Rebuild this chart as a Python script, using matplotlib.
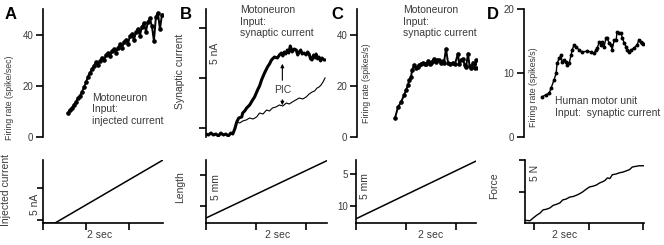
import numpy as np
import matplotlib
matplotlib.use("Agg")
import matplotlib.pyplot as plt

plt.rcParams['font.family'] = ['Liberation Sans', 'DejaVu Sans']
plt.rcParams['font.size'] = 7

# A: motoneuron, injected current ramp
a_t_start, a_t_end = 1.16, 5.53
a_rate = [9.5, 10.4, 11.3, 12.6, 13.8, 15.1, 16.0, 17.6, 19.4, 21.3, 23.6, 25.1,
          26.4, 27.9, 29.2, 28.0, 29.8, 31.0, 29.9, 32.0, 32.9, 31.5, 33.6, 34.2,
          33.0, 34.8, 36.2, 34.6, 37.1, 38.0, 36.3, 39.4, 40.2, 37.8, 41.0, 42.3,
          39.6, 43.1, 44.5, 41.2, 45.0, 46.3, 43.2, 37.5, 47.0, 48.6, 42.0, 47.8]
a_cur_t = [0, 0.56, 5.58]
a_cur = [-0.47, -0.47, 9.4]

# B: motoneuron, synaptic current (thick = total, thin = without PIC)
b_thick_t = [0.0, 0.1, 0.2, 0.3, 0.4, 0.5, 0.6, 0.7, 0.8, 0.9, 1.0, 1.08, 1.16,
             1.24, 1.32, 1.44, 1.48, 1.56, 1.64, 1.76, 1.88, 1.96, 2.08, 2.16,
             2.24, 2.36, 2.48, 2.56, 2.64, 2.76, 2.88, 2.96, 3.04, 3.10, 3.16,
             3.22, 3.28, 3.34, 3.40, 3.48, 3.56, 3.64, 3.70, 3.76, 3.82, 3.88,
             3.96, 4.04, 4.10, 4.16, 4.22, 4.28, 4.34, 4.40, 4.44, 4.50, 4.56,
             4.62, 4.68, 4.76, 4.84]
b_thick = [-0.6, -0.7, -0.5, -0.7, -0.6, -0.8, -0.5, -0.7, -0.6, -0.8, -0.5,
           -0.6, -0.1, 0.6, 1.0, 1.1, 1.5, 1.7, 2.0, 2.3, 2.8, 3.1, 3.8, 4.2,
           4.8, 5.5, 6.1, 6.4, 6.8, 7.1, 7.0, 7.3, 7.5, 7.2, 7.6, 7.4, 7.8, 7.5,
           8.2, 7.6, 7.9, 7.8, 7.3, 7.6, 7.8, 7.4, 7.5, 7.3, 7.6, 7.4, 6.9, 6.8,
           7.3, 7.0, 7.4, 6.9, 7.1, 6.7, 7.0, 6.8, 6.8]
b_thin_t = [1.16, 1.24, 1.36, 1.48, 1.62, 1.76, 1.90, 2.04, 2.16, 2.30, 2.44,
            2.56, 2.68, 2.82, 2.96, 3.10, 3.24, 3.36, 3.48, 3.62, 3.76, 3.90,
            4.04, 4.16, 4.28, 4.38, 4.48, 4.56, 4.64, 4.72, 4.80]
b_thin = [0.0, 0.6, 0.5, 0.7, 0.8, 1.0, 0.9, 1.1, 1.5, 1.4, 1.8, 1.7, 2.0, 2.1,
          2.3, 2.2, 2.5, 2.4, 2.6, 2.8, 3.0, 2.9, 3.1, 3.4, 3.6, 3.7, 4.0, 4.1,
          4.3, 4.6, 5.0]
b_len_t = [0, 4.84]
b_len = [11.9, 2.7]

# C: motoneuron, synaptic current (stretch)
c_t = [1.52, 1.64, 1.76, 1.88, 1.96, 2.04, 2.08, 2.16, 2.20, 2.28, 2.36, 2.42,
       2.48, 2.56, 2.64, 2.70, 2.76, 2.84, 2.90, 2.96, 3.02, 3.08, 3.14, 3.20,
       3.28, 3.36, 3.42, 3.48, 3.56, 3.64, 3.72, 3.84, 3.92, 4.04, 4.08, 4.16,
       4.24, 4.30, 4.36, 4.44, 4.50, 4.56, 4.64, 4.70, 4.76, 4.84]
c_rate = [7.4, 11.7, 13.6, 16.3, 18.3, 20.2, 22.1, 23.3, 26.0, 28.0, 26.8, 27.5,
          28.0, 28.6, 29.1, 28.4, 28.7, 29.5, 28.6, 29.1, 29.8, 30.6, 29.4, 30.2,
          29.9, 28.8, 29.6, 29.1, 34.5, 29.1, 28.4, 29.1, 28.6, 32.6, 28.7, 30.0,
          30.6, 28.2, 27.2, 32.6, 27.8, 26.8, 29.1, 27.0, 29.9, 26.8]
c_len_t = [0, 4.8]
c_len = [12.0, 2.97]

# D: human motor unit, force
d_t = [0.33, 0.47, 0.58, 0.65, 0.76, 0.84, 0.87, 0.95, 1.02, 1.05, 1.13, 1.20,
       1.24, 1.31, 1.38, 1.42, 1.49, 1.56, 1.67, 1.78, 1.96, 2.11, 2.22, 2.29,
       2.33, 2.40, 2.47, 2.51, 2.58, 2.65, 2.69, 2.76, 2.84, 2.87, 2.95, 3.02,
       3.05, 3.13, 3.20, 3.24, 3.31, 3.38, 3.42, 3.49, 3.56, 3.67, 3.78, 3.85,
       3.93, 3.96, 4.00]
d_rate = [6.3, 6.6, 6.8, 7.6, 8.9, 10.0, 11.5, 12.3, 12.8, 11.7, 12.0, 11.7,
          11.2, 11.5, 12.8, 13.6, 14.4, 14.1, 13.6, 13.3, 13.4, 13.3, 13.1, 13.6,
          13.9, 14.8, 14.4, 14.8, 14.1, 15.5, 15.5, 14.7, 14.4, 13.6, 15.2, 15.2,
          16.4, 16.2, 16.2, 15.5, 14.7, 14.1, 13.6, 13.3, 13.6, 13.9, 14.4, 15.2,
          14.8, 14.7, 14.5]
d_force_t = [-0.40, -0.15, -0.04, 0.11, 0.22, 0.33, 0.45, 0.58, 0.70, 0.84,
             0.95, 1.05, 1.18, 1.31, 1.44, 1.56, 1.66, 1.78, 1.90, 2.04, 2.16,
             2.29, 2.40, 2.51, 2.60, 2.69, 2.78, 2.87, 3.00, 3.13, 3.25, 3.38,
             3.50, 3.60, 3.72, 3.85, 4.03]
d_force = [0.6, 0.5, 0.9, 1.4, 1.7, 2.2, 2.3, 2.5, 2.9, 3.1, 3.3, 3.75, 3.9,
           4.2, 4.3, 4.5, 4.7, 5.0, 5.4, 5.8, 5.9, 6.1, 6.4, 6.6, 6.8, 7.2, 7.1,
           7.7, 7.8, 8.0, 8.1, 8.3, 8.5, 8.9, 9.0, 9.1, 9.1]

INK = '#3a3a3a'
FS = 7.5      # annotation / label size
FS_RATE = 6.3  # the firing rate labels are set smaller
fig = plt.figure(figsize=(6.64, 2.45), dpi=100)
W, H = 664.0, 245.0


def add_ax(left, top, bottom, width=120):
    return fig.add_axes([left / W, 1 - bottom / H, width / W, (bottom - top) / H])


def style_top(ax):
    for s in ['top', 'right', 'bottom']:
        ax.spines[s].set_visible(False)
    ax.spines['left'].set_linewidth(1.2)
    ax.set_xticks([])
    ax.tick_params(axis='y', length=5, width=1.2, pad=2, colors='k',
                   labelcolor=INK, labelsize=7)
    ax.patch.set_alpha(0)


def style_bottom(ax, xlim):
    for s in ['top', 'right']:
        ax.spines[s].set_visible(False)
    ax.spines['left'].set_linewidth(1.2)
    ax.spines['bottom'].set_linewidth(1.2)
    ax.set_xlim(*xlim)
    ax.tick_params(axis='x', length=5, width=1.2, labelbottom=False)
    ax.tick_params(axis='y', length=4, width=1.2, pad=2, colors='k',
                   labelcolor=INK, labelsize=7)
    ax.patch.set_alpha(0)


def sec_label(ax, x):
    ax.text(x, -0.19, '2 sec', transform=ax.get_xaxis_transform(),
            ha='center', va='center', fontsize=FS, color=INK)


# ---------- A ----------
ax = add_ax(43, 9, 137)
style_top(ax)
ax.plot(np.linspace(a_t_start, a_t_end, len(a_rate)), a_rate, color='k',
        lw=1.4, marker='o', ms=2.3)
ax.set_xlim(0, 5.58)
ax.set_ylim(0, 50)
ax.set_yticks([0, 20, 40])
ax.set_ylabel('Firing rate (spike/sec)', fontsize=FS_RATE, color=INK)
ax.yaxis.set_label_coords(-0.245, 0.31)
ax.text(0.408, 0.345, 'Motoneuron\nInput:\ninjected current', transform=ax.transAxes,
        ha='left', va='top', fontsize=FS, color=INK)

ax = add_ax(43, 160, 223)
style_bottom(ax, (0, 5.58))
ax.plot(a_cur_t, a_cur, color='k', lw=1.1)
ax.set_ylim(-0.47, 9.4)
ax.set_yticks([0, 5])
ax.set_yticklabels([])
ax.set_xticks([0, 2, 4])
ax.set_ylabel('Injected current', fontsize=FS, color=INK)
ax.yaxis.set_label_coords(-0.27, 0.52)
ax.text(-0.067, 2.5, '5 nA', transform=ax.get_yaxis_transform(), rotation=90,
        ha='center', va='center', fontsize=FS, color=INK)
sec_label(ax, 2.65)

# ---------- B ----------
ax = add_ax(206, 9, 137)
style_top(ax)
ax.plot(b_thick_t, b_thick, color='k', lw=2.2)
ax.plot(b_thin_t, b_thin, color='k', lw=0.8)
ax.set_xlim(0, 4.84)
ax.set_ylim(-0.9, 11.9)
ax.set_yticks([0, 5, 10])
ax.set_yticklabels([])
ax.set_ylabel('Synaptic current', fontsize=FS, color=INK)
ax.yaxis.set_label_coords(-0.175, 0.51)
ax.text(0.075, 7.5, '5 nA', transform=ax.get_yaxis_transform(), rotation=90,
        ha='center', va='center', fontsize=FS, color=INK)
ax.text(0.283, 1.03, 'Motoneuron\nInput:\nsynaptic current', transform=ax.transAxes,
        ha='left', va='top', fontsize=FS, color=INK)
ax.text(3.1, 3.8, 'PIC', ha='center', va='center', fontsize=FS, color=INK)
ax.annotate('', xy=(3.08, 6.7), xytext=(3.08, 4.5),
            arrowprops=dict(arrowstyle='-|>', color='k', lw=0.8, mutation_scale=5))
ax.annotate('', xy=(3.08, 2.0), xytext=(3.08, 3.1),
            arrowprops=dict(arrowstyle='-|>', color='k', lw=0.8, mutation_scale=5))

ax = add_ax(206, 160, 223, 121)
style_bottom(ax, (0, 4.84))
ax.plot(b_len_t, b_len, color='k', lw=1.1)
ax.set_ylim(12.7, 2.6)
ax.set_yticks([5, 10])
ax.set_yticklabels([])
ax.set_xticks([0, 2, 4])
ax.set_ylabel('Length', fontsize=FS, color=INK)
ax.yaxis.set_label_coords(-0.175, 0.57)
ax.text(0.083, 7.0, '5 mm', transform=ax.get_yaxis_transform(), rotation=90,
        ha='center', va='center', fontsize=FS, color=INK)
sec_label(ax, 2.88)

# ---------- C ----------
ax = add_ax(357, 9, 137)
style_top(ax)
ax.plot(c_t, c_rate, color='k', lw=1.4, marker='o', ms=2.3)
ax.set_xlim(0, 4.8)
ax.set_ylim(0, 50)
ax.set_yticks([0, 20, 40])
ax.text(0.083, 0.42, 'Firing rate (spikes/s)', transform=ax.transAxes, rotation=90,
        ha='center', va='center', fontsize=FS_RATE, color=INK)
ax.text(0.383, 1.03, 'Motoneuron\nInput:\nsynaptic current', transform=ax.transAxes,
        ha='left', va='top', fontsize=FS, color=INK)

ax = add_ax(356, 160, 223)
style_bottom(ax, (0, 4.8))
ax.plot(c_len_t, c_len, color='k', lw=1.1)
ax.set_ylim(12.66, 2.8)
ax.set_yticks([5, 10])
ax.set_xticks([0, 2, 4])
ax.text(0.075, 6.9, '5 mm', transform=ax.get_yaxis_transform(), rotation=90,
        ha='center', va='center', fontsize=FS, color=INK)
sec_label(ax, 3.0)

# ---------- D ----------
ax = add_ax(524, 9, 137)
style_top(ax)
ax.plot(d_t, d_rate, color='k', lw=1.0, marker='o', ms=1.8)
ax.set_xlim(-0.33, 4.03)
ax.set_ylim(0, 20)
ax.set_yticks([0, 10, 20])
ax.text(0.083, 0.39, 'Firing rate (spikes/s)', transform=ax.transAxes, rotation=90,
        ha='center', va='center', fontsize=FS_RATE, color=INK)
ax.text(0.258, 0.32, 'Human motor unit\nInput:  synaptic current', transform=ax.transAxes,
        ha='left', va='top', fontsize=FS, color=INK)

ax = add_ax(525, 160, 223, 119)
style_bottom(ax, (-0.33, 4.03))
ax.plot(d_force_t, d_force, color='k', lw=1.0)
ax.set_ylim(0.15, 10)
ax.set_yticks([5, 10])
ax.set_yticklabels([])
ax.set_xticks([0, 2, 4])
ax.set_ylabel('Force', fontsize=FS, color=INK)
ax.yaxis.set_label_coords(-0.22, 0.59)
ax.text(0.083, 8.0, '5 N', transform=ax.get_yaxis_transform(), rotation=90,
        ha='center', va='center', fontsize=FS, color=INK)
sec_label(ax, 1.13)

# panel letters
for letter, x in [('A', 5), ('B', 180), ('C', 331), ('D', 487)]:
    fig.text(x / W, 1 - 19 / H, letter, fontsize=12, fontweight='bold',
             ha='left', va='baseline')

fig.savefig('out.png', dpi=100)
